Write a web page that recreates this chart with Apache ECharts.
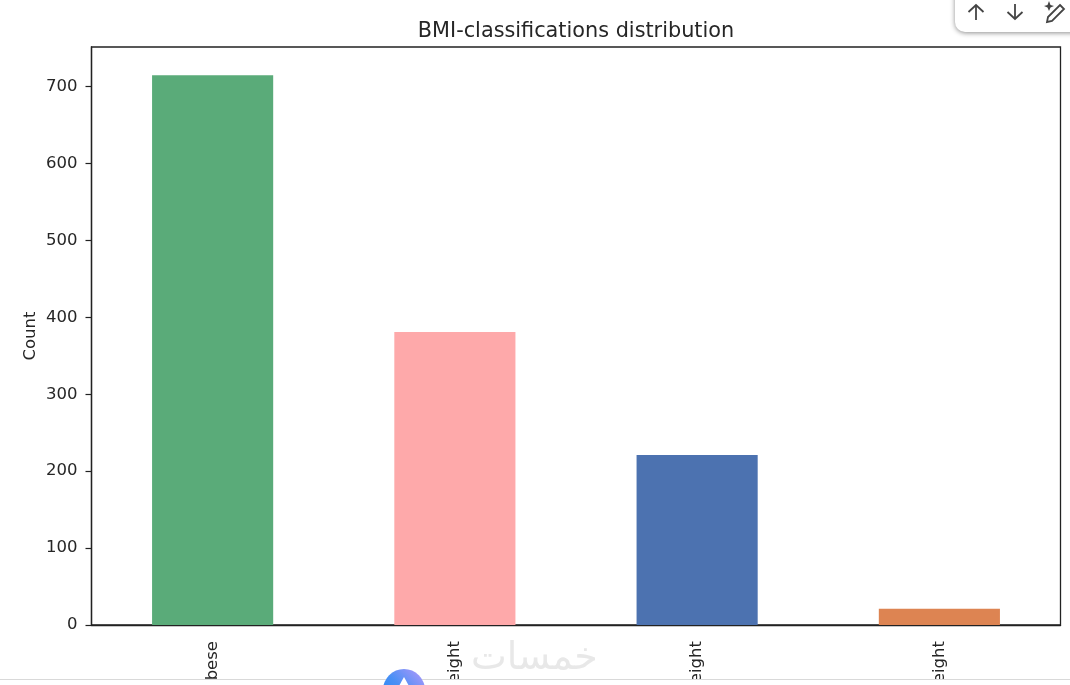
<!DOCTYPE html>
<html>
<head>
<meta charset="utf-8">
<style>
html, body { margin: 0; padding: 0; background: #fff; }
#main { width: 1070px; height: 685px; }
</style>
<script src="https://cdn.jsdelivr.net/npm/echarts@6/dist/echarts.min.js"></script>
</head>
<body>
<div id="main"></div>
<script>
var categories = ['Obese', 'Overweight', 'Normal weight', 'Underweight'];
var counts = [715, 381, 221, 21];
var barColors = ['#5aab79', '#fea9aa', '#4c72b0', '#dd8452'];
var yTicks = [0, 100, 200, 300, 400, 500, 600, 700];
var yMax = 751.6;

var chart = echarts.init(document.getElementById('main'));
var textColor = '#262626';
var fontName = '"DejaVu Sans"';

var option = {
    animation: false,
    textStyle: { fontFamily: fontName },
    title: {
        text: 'BMI-classifications distribution',
        left: 571,
        top: 16,
        textAlign: 'center',
        textStyle: { color: textColor, fontSize: 20.8, fontWeight: 'normal', fontFamily: fontName }
    },
    grid: {
        left: 91.5,
        right: 9.5,
        top: 47,
        bottom: 60,
        outerBoundsMode: 'none',
        show: true,
        backgroundColor: '#fff',
        borderColor: '#222',
        borderWidth: 1.3
    },
    xAxis: {
        type: 'category',
        data: categories,
        axisLine: { lineStyle: { color: '#222', width: 1.3 } },
        axisTick: { alignWithLabel: true, length: 6, lineStyle: { color: '#222', width: 1.2 } },
        axisLabel: {
            interval: 0,
            rotate: 90,
            margin: 16,
            color: textColor,
            fontSize: 16.5,
            fontFamily: fontName
        }
    },
    yAxis: {
        type: 'value',
        min: 0,
        max: yMax,
        name: 'Count',
        nameLocation: 'middle',
        nameGap: 52,
        nameMoveOverlap: false,
        nameTextStyle: { color: textColor, fontSize: 16.5, fontFamily: fontName },
        splitLine: { show: false },
        axisLine: { show: true, lineStyle: { color: '#222', width: 1.3 } },
        axisTick: { show: true, customValues: yTicks, length: 6, lineStyle: { color: '#222', width: 1.2 } },
        axisLabel: { customValues: yTicks, margin: 14, color: textColor, fontSize: 16.5, fontFamily: fontName }
    },
    series: [{
        type: 'bar',
        barWidth: '50%',
        data: counts.map(function (v, i) {
            return { value: v, itemStyle: { color: barColors[i] } };
        })
    }],
    graphic: [
        // page furniture around the screenshot
        {
            type: 'rect', z: 50,
            shape: { x: 955, y: -20, width: 140, height: 52, r: 10 },
            style: { fill: '#fff', shadowBlur: 5, shadowColor: 'rgba(0,0,0,0.45)', shadowOffsetY: 1 }
        },
        { type: 'polyline', z: 51, shape: { points: [[976, 20], [976, 5]] }, style: { stroke: '#444', lineWidth: 1.8, fill: null } },
        { type: 'polyline', z: 51, shape: { points: [[968.5, 12], [976, 5], [983.5, 12]] }, style: { stroke: '#444', lineWidth: 1.8, fill: null } },
        { type: 'polyline', z: 51, shape: { points: [[1015, 4], [1015, 19]] }, style: { stroke: '#444', lineWidth: 1.8, fill: null } },
        { type: 'polyline', z: 51, shape: { points: [[1007.5, 12], [1015, 19], [1022.5, 12]] }, style: { stroke: '#444', lineWidth: 1.8, fill: null } },
        { type: 'polygon', z: 51, shape: { points: [[1060, 5], [1064, 9], [1052, 21], [1047, 22], [1048, 17]] }, style: { stroke: '#444', lineWidth: 1.8, fill: '#fff' } },
        { type: 'polygon', z: 51, shape: { points: [[1049, 1], [1050.5, 5], [1054, 6], [1050.5, 7.5], [1049, 11], [1047.5, 7.5], [1044, 6], [1047.5, 5]] }, style: { fill: '#444' } },
        {
            type: 'text', z: 40, x: 471, y: 640,
            style: { text: 'خمسات', fill: '#e8e8e8', fontSize: 38, fontFamily: fontName }
        },
        { type: 'rect', z: 60, shape: { x: 0, y: 680, width: 1070, height: 6 }, style: { fill: '#fff' } },
        { type: 'rect', z: 61, shape: { x: 0, y: 679, width: 1070, height: 1 }, style: { fill: '#d9d9d9' } },
        {
            type: 'circle', z: 62,
            shape: { cx: 404, cy: 690, r: 21 },
            style: {
                fill: new echarts.graphic.LinearGradient(0, 1, 1, 0, [
                    { offset: 0, color: '#1c86f5' },
                    { offset: 0.5, color: '#4a90f5' },
                    { offset: 1, color: '#b898fb' }
                ])
            }
        },
        { type: 'polygon', z: 63, shape: { points: [[404, 677], [399, 686], [409, 686]] }, style: { fill: '#fff' } }
    ]
};
chart.setOption(option);
</script>
</body>
</html>
